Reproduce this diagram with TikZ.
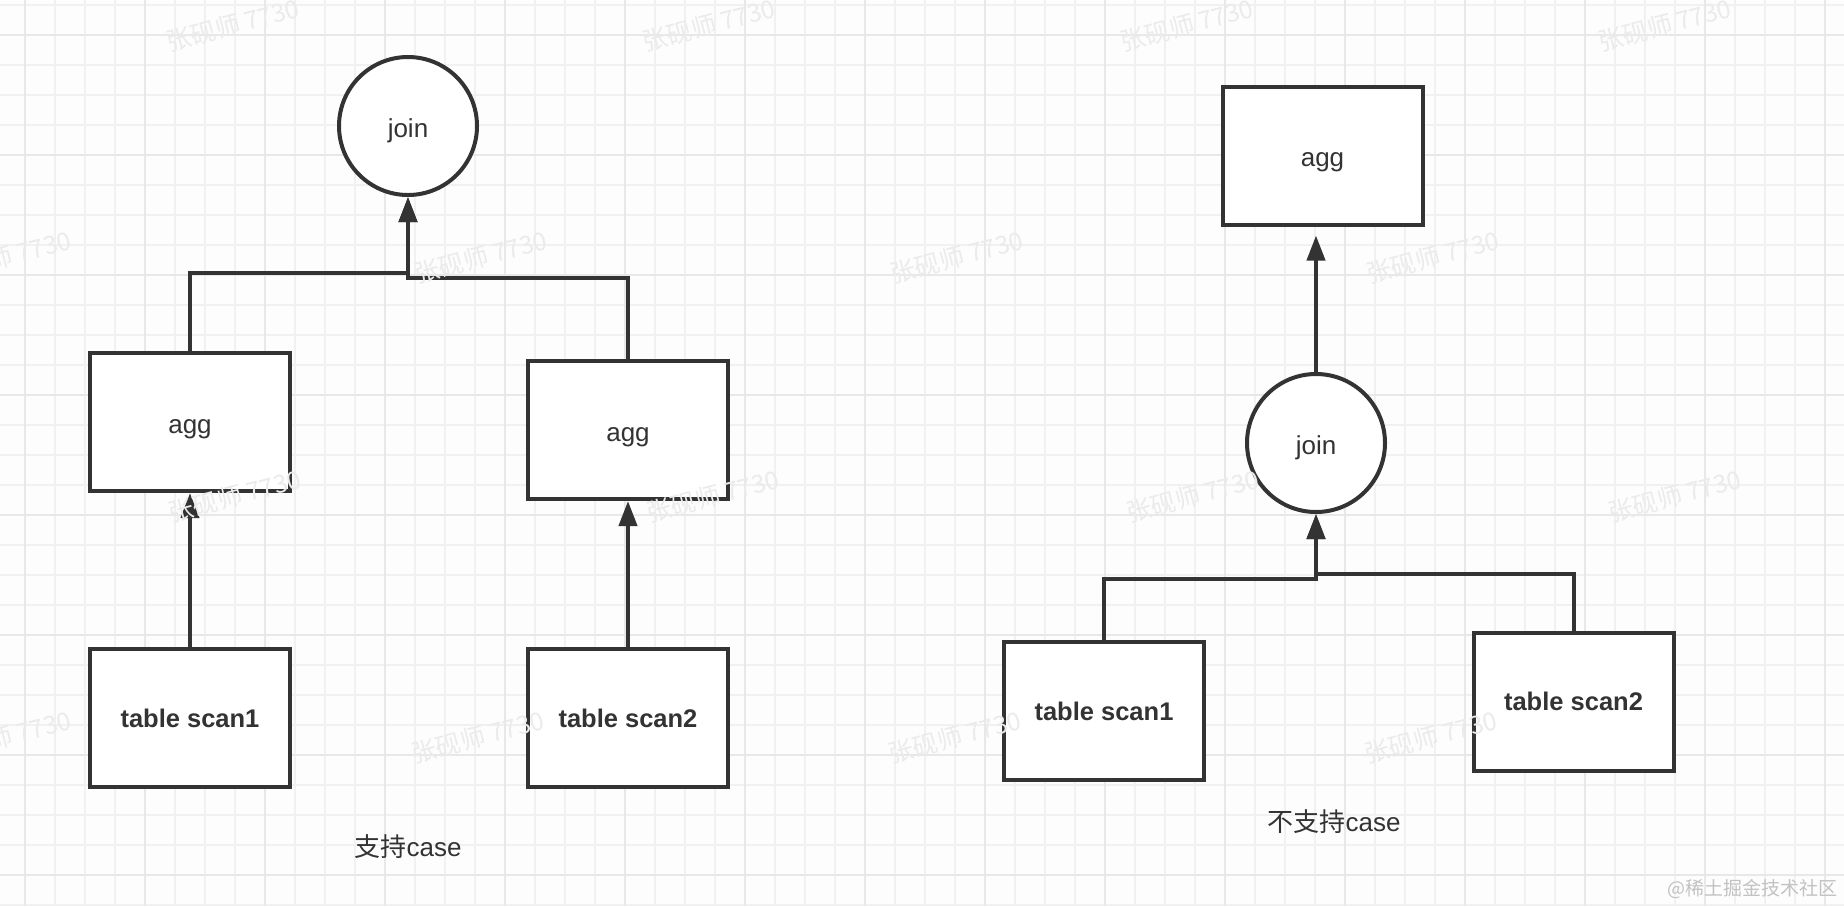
\documentclass[tikz,border=0pt]{standalone}
\usepackage{fontspec}
\setmainfont{Liberation Sans}
\newfontfamily\cjk{Noto Sans CJK SC}
\usetikzlibrary{arrows.meta}
\definecolor{ink}{HTML}{333333}
\definecolor{paper}{HTML}{FDFDFD}
\definecolor{gridminor}{HTML}{F1F1F1}
\definecolor{gridmajor}{HTML}{E8E8E8}
\definecolor{wmark}{HTML}{EBEBEB}
\definecolor{sitemark}{HTML}{C2C2C2}
\begin{document}
\begin{tikzpicture}[x=1pt,y=-1pt,
  box/.style={draw=ink, line width=4pt, fill=white, minimum width=200pt, minimum height=138pt, inner sep=0pt, text=ink, font=\fontsize{26}{30}\selectfont},
  rbox/.style={box, text height=24pt, text depth=2pt},
  bbox/.style={box, font=\fontsize{25.5}{30}\selectfont\bfseries},
  joinnode/.style={circle, draw=ink, line width=4pt, fill=white, minimum size=138pt, inner sep=0pt, text=ink, text height=24pt, text depth=2pt, font=\fontsize{26}{30}\selectfont},
  conn/.style={draw=ink, line width=4pt},
  arr/.style={conn, -{Triangle[length=25pt,width=18pt]}},
  caption/.style={text=ink, inner sep=0pt, font=\fontsize{26}{30}\selectfont},
  wm/.style={text=wmark, inner sep=0pt, rotate=15, font=\cjk\fontsize{25}{30}\selectfont},
  site/.style={text=sitemark, inner sep=0pt, font=\cjk\fontsize{19}{23}\selectfont},
  minorline/.style={draw=gridminor, line width=1.3pt},
  majorline/.style={draw=gridmajor, line width=1.8pt}
]
\useasboundingbox (0,0) rectangle (1844,906);
\fill[paper] (0,0) rectangle (1844,906);
% grid
\foreach \x in {25,55,...,1844} \draw[minorline] (\x,0) -- (\x,906);
\foreach \y in {5,35,...,906} \draw[minorline] (0,\y) -- (1844,\y);
\foreach \x in {25,145,...,1844} \draw[majorline] (\x,0) -- (\x,906);
\foreach \y in {35,155,...,906} \draw[majorline] (0,\y) -- (1844,\y);

% left diagram
\node[joinnode] (join1) at (408,126) {join};
\node[rbox] (agg1) at (190,422) {agg};
\node[rbox] (agg2) at (628,430) {agg};
\node[bbox] (ts1) at (190,718) {table scan1};
\node[bbox] (ts2) at (628,718) {table scan2};
\coordinate (jl) at (408,273);
\coordinate (jr) at (408,278);
\draw[arr] (agg1.north) |- (jl) -- (join1.south);
\draw[arr] (agg2.north) |- (jr) -- (join1.south);
\draw[arr] (ts1.north) -- (agg1.south);
\draw[arr] (ts2.north) -- (agg2.south);
\node[caption] (cap1) at (408,847) {{\cjk 支持}case};

% right diagram
\node[rbox] (agg3) at (1322.5,155.5) {agg};
\node[joinnode] (join2) at (1316,443) {join};
\node[bbox] (ts3) at (1104,711) {table scan1};
\node[bbox] (ts4) at (1573.5,701.5) {table scan2};
\coordinate (kl) at (1316,579);
\coordinate (kr) at (1316,574);
\draw[arr] (ts3.north) |- (kl) -- (join2.south);
\draw[arr] (ts4.north) |- (kr) -- (join2.south);
\draw[arr, shorten >=9pt] (join2.north) -- (join2.north |- agg3.south);
\node[caption] (cap2) at (1334,822) {{\cjk 不支持}case};

% watermarks
\foreach \p in {(233,25),(709,25),(1187,25),(1665,25),
                (5,257),(481,257),(957,257),(1433,257),
                (235,496),(713,496),(1193,496),(1675,496),
                (5,737),(478,737),(955,737),(1431,737)}
  \node[wm] at \p {张砚师 7730};
\node[site, anchor=east] (sitelabel) at (1838,889) {@稀土掘金技术社区};
\end{tikzpicture}
\end{document}
